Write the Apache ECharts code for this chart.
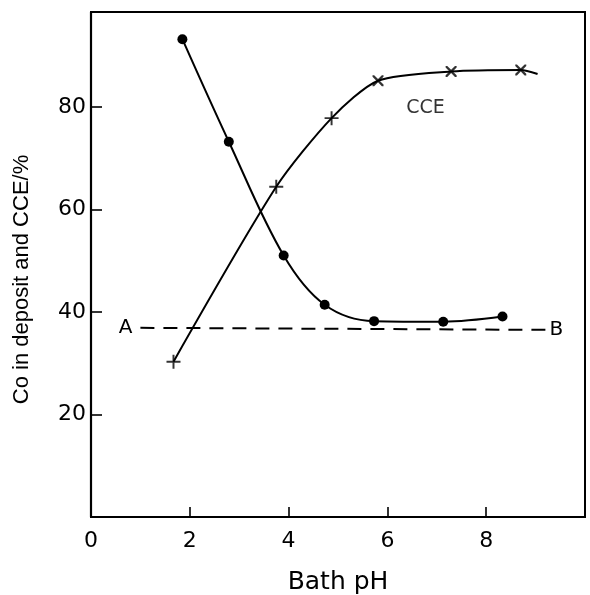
<!DOCTYPE html>
<html>
<head>
<meta charset="utf-8">
<script src="https://cdn.jsdelivr.net/npm/echarts@6/dist/echarts.min.js"></script>
<style>
  html, body { margin: 0; padding: 0; background: #fff; }
  #chart { width: 590px; height: 595px; }
</style>
</head>
<body>
<div id="chart"></div>
<script>
// Co content of the deposit versus bath pH (filled dots)
const coPH = [1.85, 2.79, 3.90, 4.73, 5.73, 7.13, 8.33];
const coPct = [93.2, 73.2, 51.0, 41.4, 38.2, 38.1, 39.1];

// Cathode current efficiency versus bath pH (crosses)
const ccePH = [1.67, 3.75, 4.87, 5.81, 7.29, 8.70];
const ccePct = [30.3, 64.4, 77.8, 85.1, 86.9, 87.2];
// where the fitted CCE curve stops, past the last point
const cceTail = [9.04, 86.4];

// reference line A–B (composition of the bath)
const refLine = [[1.0, 36.9], [9.2, 36.5]];
const refLabels = ['A', 'B'];

// curve label
const cceLabel = { text: 'CCE', at: [6.77, 79.8] };

const xTicks = [0, 2, 4, 6, 8];
const yTicks = [20, 40, 60, 80];

const PLUS = 'path://M8.6,0 H11.4 V8.6 H20 V11.4 H11.4 V20 H8.6 V11.4 H0 V8.6 H8.6 Z';
const CROSS = 'path://M0,0 L3,0 L10,7 L17,0 L20,0 L20,3 L13,10 L20,17 L20,20 L17,20 L10,13 L3,20 L0,20 L0,17 L7,10 L0,3 Z';

const zip = (xs, ys) => xs.map((x, i) => [x, ys[i]]);
const cceData = zip(ccePH, ccePct);

const chart = echarts.init(document.getElementById('chart'), null, { renderer: 'canvas' });

const tickFont = { color: '#000', fontFamily: 'DejaVu Sans', fontSize: 22 };

chart.setOption({
  backgroundColor: '#fff',
  animation: false,
  grid: {
    left: 91, right: 5, top: 12, bottom: 78,
    containLabel: false,
    outerBoundsMode: 'none',
    show: true, borderColor: '#000', borderWidth: 2, backgroundColor: 'transparent'
  },
  xAxis: {
    type: 'value', min: 0, max: 10, interval: 2,
    name: 'Bath pH', nameLocation: 'middle', nameGap: 53,
    nameTextStyle: { color: '#000', fontFamily: 'DejaVu Sans', fontSize: 25 },
    axisLine: { show: true, onZero: false, lineStyle: { color: '#000', width: 2.2 } },
    axisTick: { show: true, inside: true, length: 10, lineStyle: { color: '#000', width: 1.6 } },
    axisLabel: {
      ...tickFont, margin: 13, showMaxLabel: false,
      formatter: v => xTicks.includes(v) ? String(v) : ''
    },
    splitLine: { show: false }
  },
  yAxis: {
    type: 'value', min: 0, max: 98.5, interval: 20,
    name: 'Co in deposit and CCE/%', nameLocation: 'middle', nameGap: 58,
    nameTextStyle: {
      color: '#000', fontFamily: 'Liberation Sans', fontSize: 22,
      padding: [0, 30, 0, 0]
    },
    axisLine: { show: true, onZero: false, lineStyle: { color: '#000', width: 2.2 } },
    axisTick: { show: true, inside: true, length: 11, lineStyle: { color: '#000', width: 1.6 } },
    axisLabel: {
      ...tickFont, margin: 5, showMinLabel: false, showMaxLabel: false,
      formatter: v => yTicks.includes(v) ? String(v) : ''
    },
    splitLine: { show: false }
  },
  series: [
    {
      name: 'Co in deposit',
      type: 'line',
      data: zip(coPH, coPct),
      smooth: 0.35,
      symbol: 'circle',
      symbolSize: 10,
      itemStyle: { color: '#000' },
      lineStyle: { color: '#000', width: 2 },
      z: 3
    },
    {
      name: 'CCE curve',
      type: 'line',
      data: cceData.concat([cceTail]),
      smooth: 0.25,
      symbol: 'none',
      lineStyle: { color: '#000', width: 2 },
      z: 2
    },
    {
      name: 'CCE',
      type: 'scatter',
      data: cceData,
      symbol: (v, p) => p.dataIndex < 3 ? PLUS : CROSS,
      symbolSize: (v, p) => p.dataIndex < 3 ? 14 : 11,
      itemStyle: { color: '#000' },
      z: 4
    },
    {
      name: 'A-B',
      type: 'line',
      data: refLine.map((p, i) => ({
        value: p,
        label: {
          show: true,
          formatter: refLabels[i],
          position: i === 0 ? 'left' : 'right',
          distance: i === 0 ? 8 : 4,
          color: '#000', fontFamily: 'DejaVu Sans', fontSize: 20
        }
      })),
      symbol: 'circle',
      symbolSize: 0,
      showSymbol: true,
      lineStyle: { color: '#000', width: 2, type: [14, 9] },
      z: 1
    },
    {
      name: 'CCE label',
      type: 'scatter',
      data: [cceLabel.at],
      symbolSize: 0,
      label: {
        show: true, position: 'inside', formatter: cceLabel.text,
        color: '#000', fontFamily: 'DejaVu Sans', fontSize: 19
      }
    }
  ]
});
</script>
</body>
</html>
